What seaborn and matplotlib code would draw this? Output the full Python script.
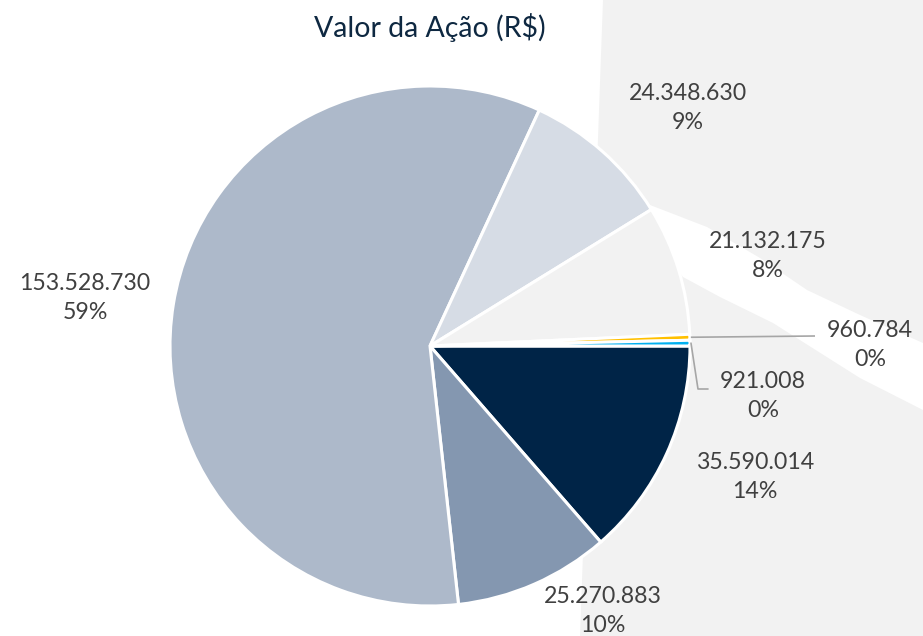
import numpy as np
import matplotlib
matplotlib.use("Agg")
import matplotlib.pyplot as plt
import seaborn as sns
from matplotlib.patches import Polygon

sns.set_theme(style="white")
plt.rcParams['font.family'] = ['Lato', 'DejaVu Sans']

# ---- data ----
values = [35590014, 25270883, 153528730, 24348630, 21132175, 960784, 921008]
value_labels = ["35.590.014", "25.270.883", "153.528.730", "24.348.630",
                "21.132.175", "960.784", "921.008"]
pct_labels = ["14%", "10%", "59%", "9%", "8%", "0%", "0%"]
title = "Valor da Ação (R$)"

# ---- styles / positions ----
colors = ["#002447", "#8497B0", "#ADB9CA", "#D6DCE5", "#F2F2F2", "#FFC000", "#00B0F0"]
W, H = 923, 636
label_pos = [(755, 477), (603, 611), (85, 298), (688, 108), (768, 256), (870, 345), (763, 396)]

fig = plt.figure(figsize=(W / 100, H / 100), dpi=100)
fig.patch.set_facecolor("white")

def fx(p):
    return [(x / W, 1 - y / H) for x, y in p]

# background decoration (gray panel with white diagonal band)
panel = [(603, 0), (923, 0), (923, 636), (580, 636)]
fig.add_artist(Polygon(fx(panel), closed=True, transform=fig.transFigure,
                       facecolor="#F2F2F2", edgecolor="none", zorder=-10))
band = [(650, 205), (707, 227), (760, 258), (807, 290), (860, 315), (923, 343),
        (923, 410), (860, 378), (773, 323), (720, 297), (683, 277), (660, 250)]
fig.add_artist(Polygon(fx(band), closed=True, transform=fig.transFigure,
                       facecolor="white", edgecolor="none", zorder=-9))

ax = fig.add_axes([0, 0, 1, 1])
cx, cy, R = 430, H - 346, 260
wedges, _ = ax.pie(values, colors=colors, startangle=0, counterclock=False,
                   radius=R, center=(cx, cy),
                   wedgeprops=dict(edgecolor="white", linewidth=2.2), frame=False)
ax.set_xlim(0, W)
ax.set_ylim(0, H)
ax.set_aspect("equal")
ax.axis("off")

txt_color = "#404040"
for i, (v, p) in enumerate(zip(value_labels, pct_labels)):
    x, y = label_pos[i]
    ax.text(x, H - y, f"{v}\n{p}", ha="center", va="center", fontsize=16.7,
            color=txt_color, linespacing=1.5)

# leader lines for the tiny slices
line_c = "#A6A6A6"
leaders = [(5, (815, 336), "straight"), (6, (708, 389), "elbow")]
for i, end, mode in leaders:
    w = wedges[i]
    ang = np.deg2rad((w.theta1 + w.theta2) / 2)
    sx, sy = cx + R * np.cos(ang) + 1, cy + R * np.sin(ang)
    ex, ey = end
    if mode == "straight":
        ax.plot([sx, ex], [sy, H - ey], color=line_c, lw=1.2, solid_capstyle="butt")
    else:
        ax.plot([sx, sx + 7, ex], [sy, H - ey, H - ey], color=line_c, lw=1.2)

fig.text(430 / W, 1 - 28 / H, title, ha="center", va="center", fontsize=20.5,
         color="#0E2841")

fig.savefig("out.png", dpi=100)
